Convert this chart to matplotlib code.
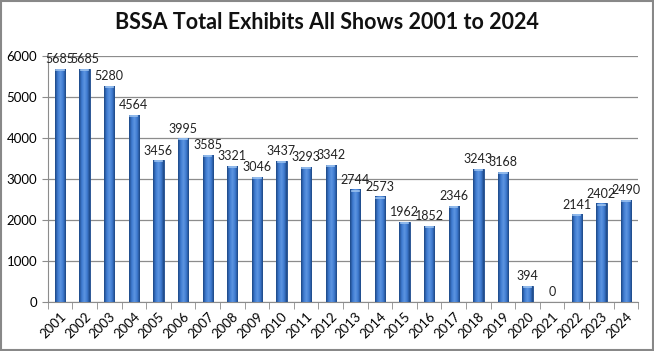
import numpy as np
import matplotlib.pyplot as plt
from matplotlib.colors import LinearSegmentedColormap

years = [str(y) for y in range(2001, 2025)]
exhibits = [5685, 5685, 5280, 4564, 3456, 3995, 3585, 3321, 3046, 3437, 3293, 3342,
            2744, 2573, 1962, 1852, 2346, 3243, 3168, 394, 0, 2141, 2402, 2490]

plt.rcParams['font.family'] = ['Lato', 'DejaVu Sans']

fig = plt.figure(figsize=(6.54, 3.51), dpi=100)
ax = fig.add_axes([0.073, 0.140, 0.903, 0.700])

x = np.arange(len(years))
bars = ax.bar(x, exhibits, width=0.42, color='#3c72c4', edgecolor='#1d4a8a', linewidth=0.6, zorder=3)

# horizontal shading on each bar: dark edges, lighter middle
cmap = LinearSegmentedColormap.from_list('col', ['#1c4784', '#3f7bd0', '#5d95e0', '#3f7bd0', '#1c4784'])
grad = np.linspace(0, 1, 64).reshape(1, -1)
for b in bars:
    h = b.get_height()
    if h <= 0:
        continue
    x0 = b.get_x()
    w = b.get_width()
    im = ax.imshow(grad, cmap=cmap, aspect='auto', extent=[x0, x0 + w, 0, h], zorder=3)
    im.set_clip_path(b)
    # light cap at top
    ax.plot([x0 + w * 0.15, x0 + w * 0.85], [h - 25, h - 25], color='#9cc3f0', lw=1.2, zorder=4)

for xi, v in zip(x, exhibits):
    ax.text(xi, v + 90, str(v), ha='center', va='bottom', fontsize=9, color='#222222', zorder=5)

ax.set_xlim(-0.5, len(years) - 0.5)
ax.set_ylim(0, 6000)
ax.set_yticks(range(0, 6001, 1000))
ax.yaxis.grid(True, color='#8c8c8c', lw=0.9, zorder=0)
ax.set_axisbelow(True)

ax.set_xticks(x)
ax.set_xticklabels(years, rotation=45, ha='right', rotation_mode='anchor', fontsize=9.5)
ax.set_xticks(np.arange(-0.5, len(years), 1), minor=True)
ax.tick_params(axis='x', which='major', length=0, pad=6)
ax.tick_params(axis='x', which='minor', length=5, color='#8c8c8c', direction='out')
ax.tick_params(axis='y', length=4, color='#8c8c8c', labelsize=9.5)

for s in ['top', 'right']:
    ax.spines[s].set_visible(False)
for s in ['left', 'bottom']:
    ax.spines[s].set_color('#8c8c8c')

fig.text(0.5, 0.935, 'BSSA Total Exhibits All Shows 2001 to 2024', ha='center', va='center',
         fontsize=15.5, fontweight='bold', color='#111111')

fig.patches.append(plt.Rectangle((0.002, 0.003), 0.996, 0.994, transform=fig.transFigure,
                                 fill=False, edgecolor='#888888', lw=1.5))

fig.savefig('out.png', dpi=100)
